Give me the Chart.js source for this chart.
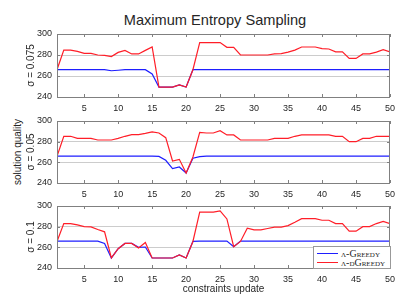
<!DOCTYPE html>
<html>
<head>
<meta charset="utf-8">
<script src="https://cdn.jsdelivr.net/npm/chart.js@4.4.1/dist/chart.umd.min.js"></script>
<style>
  body { margin: 0; background: #fff; }
  #wrap { position: relative; width: 407px; height: 304px; overflow: hidden; font-family: "Liberation Sans", Arial, sans-serif; color: #262626; }
  #wrap canvas { position: absolute; left: 0; top: 0; }
  #title { position: absolute; left: 0; top: 13px; width: 430px; text-align: center; font-size: 14.6px; line-height: 15px; }
  #ylab { position: absolute; left: -42px; top: 146px; width: 120px; height: 12px; line-height: 12px; font-size: 10px; text-align: center; transform: rotate(-90deg); }
  #legend { position: absolute; left: 313px; top: 246px; width: 76px; height: 21px; border: 1px solid #999; background: #fff; z-index: 5;
            font-family: "Liberation Serif", "Times New Roman", serif; font-variant: small-caps; font-size: 10px; }
  .item { position: absolute; left: 3px; height: 10px; line-height: 10px; white-space: nowrap; }
  .swatch { display: inline-block; width: 21px; height: 0; border-top: 1.4px solid; vertical-align: middle; margin-right: 3px; position: relative; top: -1px; }
</style>
</head>
<body>
<div id="wrap">
  <div id="title">Maximum Entropy Sampling</div>
  <div id="ylab">solution quality</div>
  <canvas id="c1" width="407" height="304"></canvas>
  <canvas id="c2" width="407" height="304"></canvas>
  <canvas id="c3" width="407" height="304"></canvas>
  <div id="legend">
    <div class="item" style="top:2px"><span class="swatch" style="border-color:rgb(30,30,255)"></span>λ-Greedy</div>
    <div class="item" style="top:11px"><span class="swatch" style="border-color:rgb(255,30,40)"></span>λ-dGreedy</div>
  </div>
</div>
<script>
// constraint update steps
const steps = [1, 2, 3, 4, 5, 6, 7, 8, 9, 10, 11, 12, 13, 14, 15, 16, 17, 18, 19, 20,
  21, 22, 23, 24, 25, 26, 27, 28, 29, 30, 31, 32, 33, 34, 35, 36, 37, 38, 39, 40,
  41, 42, 43, 44, 45, 46, 47, 48, 49, 50];
const xTicks = [5, 10, 15, 20, 25, 30, 35, 40, 45, 50];
const yTicks = [240, 260, 280, 300];

// sigma = 0.075
const greedy075 = [266, 266, 266, 266, 266, 266, 266, 266, 265, 265.5,
  266, 266, 266, 266, 262, 249.5, 249.5, 249.5, 251.5, 249.5,
  266, 266, 266, 266, 266, 266, 266, 266, 266, 266,
  266, 266, 266, 266, 266, 266, 266, 266, 266, 266,
  266, 266, 266, 266, 266, 266, 266, 266, 266, 266];
const dgreedy075 = [266, 284.7, 284.7, 283.5, 281.5, 281.5, 280, 279.6, 278.5, 282.5,
  284.4, 281, 281, 284.4, 287.6, 249.5, 249.5, 249.5, 251.5, 249.5,
  266, 291.8, 291.8, 291.8, 291.8, 287.3, 287.3, 280, 280, 280,
  280, 280, 281, 281.4, 282.8, 284.7, 287.6, 287.6, 287.6, 286,
  285.7, 283, 283, 276.7, 276.7, 281, 281, 282.8, 285, 283];

// sigma = 0.05
const greedy05 = [266, 266, 266, 266, 266, 266, 266, 266, 266, 266,
  266, 266, 266, 266, 266, 265.7, 262, 254, 255.5, 249.7,
  264, 265.5, 266, 266, 266, 266, 266, 266, 266, 266,
  266, 266, 266, 266, 266, 266, 266, 266, 266, 266,
  266, 266, 266, 266, 266, 266, 266, 266, 266, 266];
const dgreedy05 = [265.8, 285.2, 285.2, 283.2, 283.2, 283.2, 281.6, 281.6, 281.6, 283.2,
  285.2, 286.8, 286.8, 288, 289.4, 288.4, 283.9, 261.3, 262.9, 249.7,
  265.2, 289, 288.4, 288.4, 290.6, 286.5, 286.5, 281.6, 281.6, 281.6,
  281.6, 281.6, 283.2, 283.2, 283.2, 285.2, 286.5, 286.5, 286.5, 286.5,
  286.5, 285.2, 285.2, 280, 280, 283.2, 283.2, 285.2, 285.2, 285.2];

// sigma = 0.1
const greedy1 = [266, 266, 266, 266, 266, 266, 266, 263.8, 249.7, 258.7,
  263.8, 263.8, 260, 260.3, 249.7, 249.7, 249.7, 249.7, 252.6, 249.7,
  265.7, 266, 266, 266, 266, 266, 260.6, 266, 266, 266,
  266, 266, 266, 266, 266, 266, 266, 266, 266, 266,
  266, 266, 266, 266, 266, 266, 266, 266, 266, 266];
const dgreedy1 = [265.7, 283, 283, 281.7, 280, 279.8, 277.2, 275, 249.7, 258.7,
  263.8, 263.8, 259.3, 264.7, 249.7, 249.7, 249.7, 249.7, 252.6, 249.7,
  265.7, 294, 294, 294, 295.2, 287.5, 260.6, 265.7, 278.5, 276.9,
  276.9, 278.2, 279.5, 279.5, 281, 284.3, 287.8, 287.8, 287.8, 286.2,
  286.2, 283, 283, 275.6, 275.6, 280, 280, 283, 285, 283];

const BLUE = 'rgb(30,30,255)';
const RED = 'rgb(255,30,40)';
const FONT = '"Liberation Sans", Arial, sans-serif';

// box round the plot area and small inward ticks, like matlab axes
const boxPlugin = {
  id: 'box',
  afterDraw(chart) {
    const { ctx, chartArea: a, scales: { x, y } } = chart;
    ctx.save();
    ctx.strokeStyle = '#808080';
    ctx.lineWidth = 1;
    ctx.beginPath();
    x.ticks.forEach(t => {
      const px = Math.round(x.getPixelForValue(t.value)) + 0.5;
      ctx.moveTo(px, a.bottom); ctx.lineTo(px, a.bottom - 3);
      ctx.moveTo(px, a.top); ctx.lineTo(px, a.top + 3);
    });
    y.ticks.forEach(t => {
      const py = Math.round(y.getPixelForValue(t.value)) + 0.5;
      ctx.moveTo(a.left, py); ctx.lineTo(a.left + 3, py);
      ctx.moveTo(a.right, py); ctx.lineTo(a.right - 3, py);
    });
    ctx.stroke();
    ctx.strokeRect(Math.round(a.left) + 0.5, Math.round(a.top) + 0.5,
      Math.round(a.right - a.left) - 1, Math.round(a.bottom - a.top));
    ctx.restore();
  }
};

function makePanel(canvasId, sigmaLabel, greedy, dgreedy, top, bottom, xTitle) {
  const axisH = xTitle ? 30 : 20;
  return new Chart(document.getElementById(canvasId), {
    type: 'line',
    data: {
      datasets: [{
        label: 'λ-Greedy',
        data: steps.map((s, i) => ({ x: s, y: greedy[i] })),
        borderColor: BLUE,
        borderWidth: 1.2,
        pointRadius: 0,
        tension: 0,
        order: 2
      }, {
        label: 'λ-dGreedy',
        data: steps.map((s, i) => ({ x: s, y: dgreedy[i] })),
        borderColor: RED,
        borderWidth: 1.2,
        pointRadius: 0,
        tension: 0,
        order: 1
      }]
    },
    options: {
      responsive: false,
      animation: false,
      devicePixelRatio: 1,
      layout: { padding: { left: 0, right: 17, top: top, bottom: 304 - bottom - axisH } },
      plugins: { legend: { display: false }, tooltip: { enabled: false } },
      scales: {
        x: {
          type: 'linear',
          min: 1,
          max: 50,
          afterBuildTicks: s => { s.ticks = xTicks.map(v => ({ value: v })); },
          afterFit: s => { s.height = axisH; },
          grid: { display: false, drawTicks: false },
          border: { display: false },
          ticks: { color: '#262626', font: { size: 9, family: FONT }, padding: 6, maxRotation: 0 },
          title: {
            display: !!xTitle,
            text: xTitle || '',
            color: '#262626',
            font: { size: 10, family: FONT },
            padding: { top: 0, bottom: 3 }
          }
        },
        y: {
          min: 240,
          max: 300,
          afterBuildTicks: s => { s.ticks = yTicks.map(v => ({ value: v })); },
          afterFit: s => { s.width = 57; },
          grid: { color: '#cccccc', drawTicks: false },
          border: { display: false },
          ticks: { color: '#262626', font: { size: 9, family: FONT }, padding: 5 },
          title: {
            display: true,
            text: sigmaLabel,
            color: '#262626',
            font: { size: 10, family: FONT },
            padding: { top: 25.5, bottom: 0 }
          }
        }
      }
    },
    plugins: [boxPlugin]
  });
}

makePanel('c1', 'σ = 0.075', greedy075, dgreedy075, 34, 97);
makePanel('c2', 'σ = 0.05', greedy05, dgreedy05, 121, 183);
makePanel('c3', 'σ = 0.1', greedy1, dgreedy1, 206, 268, 'constraints update');
</script>
</body>
</html>
